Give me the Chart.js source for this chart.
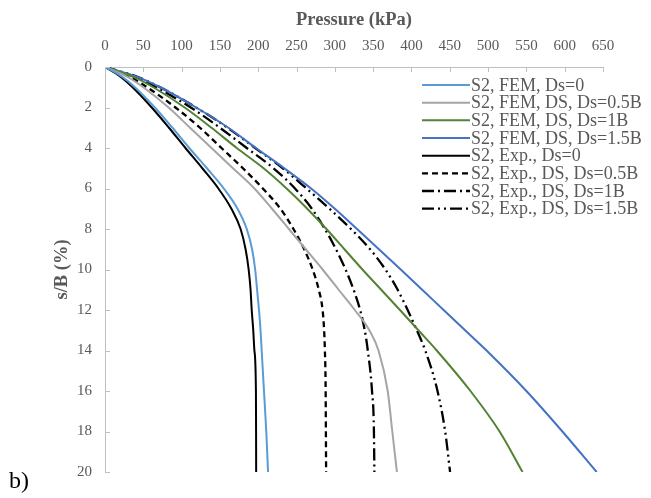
<!DOCTYPE html>
<html>
<head>
<meta charset="utf-8">
<script src="https://cdn.jsdelivr.net/npm/chart.js@4.4.1/dist/chart.umd.min.js"></script>
<style>
  body { margin: 0; background: #fff; }
  #wrap { width: 651px; height: 498px; }
</style>
</head>
<body>
<div id="wrap"><canvas id="chart" width="651" height="498"></canvas></div>
<script>
const sValues = [0, 0.5, 1, 2, 3, 4, 5, 6, 7, 8, 9, 10, 11, 12, 13, 14, 16, 18, 20];

// pressure (kPa) for each curve at the sValues above
const femDs0     = [0, 23, 39, 65, 88, 110, 133, 155, 173, 185, 192, 196, 198.5, 201, 203, 204.5, 207.5, 210.5, 212.8];
const femDs05B   = [0, 30, 50, 83, 111, 139, 167, 195, 218, 240, 262, 284, 305, 326, 345, 357, 369, 375, 381];
const femDs1B    = [0, 38, 63, 104, 139, 172, 207, 237, 264, 289, 312.5, 336, 360.5, 385, 409, 433, 477, 515, 545];
const femDs15B   = [0, 43, 72, 119, 161, 197, 234, 269, 300, 329, 357.5, 386, 414, 442, 470, 498, 550, 597, 641.7];
const expDs0     = [0, 21, 36, 61, 83.5, 105, 127, 148, 165, 177, 183.5, 187.5, 190, 191.5, 193.5, 195, 197, 197.2, 197.3];
const expDs05B   = [0, 33, 55, 92, 124, 152, 180, 206, 229, 246, 260, 271, 279, 284, 286, 287, 288, 288.3, 288.6];
const expDs1B    = [0, 40, 67, 112, 150, 185, 220, 248, 270, 287, 301.5, 314, 324.5, 333, 339, 343, 348.5, 351, 351.6];
const expDs15B   = [0, 43, 72, 119, 160, 196, 232, 263, 293, 321, 346, 366, 382, 395, 407, 418, 434, 444, 450.4];

const seriesNames = [
    "S2, FEM, Ds=0",
    "S2, FEM, DS, Ds=0.5B",
    "S2, FEM, DS, Ds=1B",
    "S2, FEM, DS, Ds=1.5B",
    "S2, Exp., Ds=0",
    "S2, Exp., DS, Ds=0.5B",
    "S2, Exp., DS, Ds=1B",
    "S2, Exp., DS, Ds=1.5B"
];
const seriesValues = [femDs0, femDs05B, femDs1B, femDs15B, expDs0, expDs05B, expDs1B, expDs15B];
const seriesColors = ["#5B9BD5", "#A5A5A5", "#548235", "#4472C4", "#000000", "#000000", "#000000", "#000000"];
const seriesDashes = [[], [], [], [], [], [6, 4], [12, 4, 2, 4], [12, 4, 2, 4, 2, 4]];

const FONT = "'Liberation Serif', 'Times New Roman', serif";
const TEXT = "#595959";
const AXIS = "#BFBFBF";

function toPoints(values) {
    return values.map((p, i) => ({ x: p, y: sValues[i] }));
}

const datasets = seriesValues.map((vals, i) => ({
    label: seriesNames[i],
    data: toPoints(vals),
    borderColor: seriesColors[i],
    borderWidth: i > 4 ? 2.3 : 2,
    borderDash: seriesDashes[i],
    pointRadius: 0,
    showLine: true,
    fill: false,
    cubicInterpolationMode: "monotone"
}));

// inner tick marks, legend drawn over the plot and the "b)" label
const extras = {
    id: "extras",
    afterDraw(chart) {
        const ctx = chart.ctx;
        const xs = chart.scales.x;
        const ys = chart.scales.y;
        const area = chart.chartArea;
        ctx.save();
        ctx.strokeStyle = AXIS;
        ctx.lineWidth = 1;
        ctx.beginPath();
        xs.ticks.forEach(t => {
            const px = Math.round(xs.getPixelForValue(t.value)) + 0.5;
            ctx.moveTo(px, area.top);
            ctx.lineTo(px, area.top + 5);
        });
        ys.ticks.forEach(t => {
            const py = Math.round(ys.getPixelForValue(t.value)) + 0.5;
            ctx.moveTo(area.left, py);
            ctx.lineTo(area.left + 5, py);
        });
        ctx.stroke();

        // legend
        ctx.font = "18px " + FONT;
        ctx.textBaseline = "middle";
        ctx.textAlign = "left";
        seriesNames.forEach((name, i) => {
            const y = 85 + i * 17.67;
            ctx.strokeStyle = seriesColors[i];
            ctx.lineWidth = i > 4 ? 2.3 : 2;
            ctx.setLineDash(seriesDashes[i]);
            ctx.beginPath();
            ctx.moveTo(422, y);
            ctx.lineTo(470, y);
            ctx.stroke();
            ctx.setLineDash([]);
            ctx.fillStyle = TEXT;
            ctx.fillText(name, 471, y + 1);
        });

        ctx.font = "24px " + FONT;
        ctx.fillStyle = "#000";
        ctx.fillText("b)", 9, 482);
        ctx.restore();
    }
};

new Chart(document.getElementById("chart"), {
    type: "scatter",
    data: { datasets: datasets },
    options: {
        responsive: false,
        animation: false,
        devicePixelRatio: 1,
        layout: { padding: { left: 0, top: 0, right: 48, bottom: 26 } },
        plugins: {
            legend: { display: false },
            tooltip: { enabled: false }
        },
        scales: {
            x: {
                type: "linear",
                position: "top",
                min: 0,
                max: 650,
                afterFit: s => { s.height = 67; },
                ticks: { stepSize: 50, color: TEXT, padding: 12, font: { family: FONT, size: 15 } },
                grid: { display: false, drawTicks: false },
                border: { display: true, color: AXIS, width: 1 },
                title: {
                    display: true,
                    text: "Pressure (kPa)",
                    color: TEXT,
                    padding: { top: 9, bottom: 0 },
                    font: { family: FONT, size: 18.5, weight: "bold" }
                }
            },
            y: {
                type: "linear",
                reverse: true,
                min: 0,
                max: 20,
                afterFit: s => { s.width = 105; },
                ticks: { stepSize: 2, color: TEXT, padding: 13, font: { family: FONT, size: 15 } },
                grid: { display: false, drawTicks: false },
                border: { display: true, color: AXIS, width: 1 },
                title: {
                    display: true,
                    text: "s/B (%)",
                    color: TEXT,
                    padding: { top: 51, bottom: 0 },
                    font: { family: FONT, size: 18.5, weight: "bold" }
                }
            }
        }
    },
    plugins: [extras]
});
</script>
</body>
</html>
